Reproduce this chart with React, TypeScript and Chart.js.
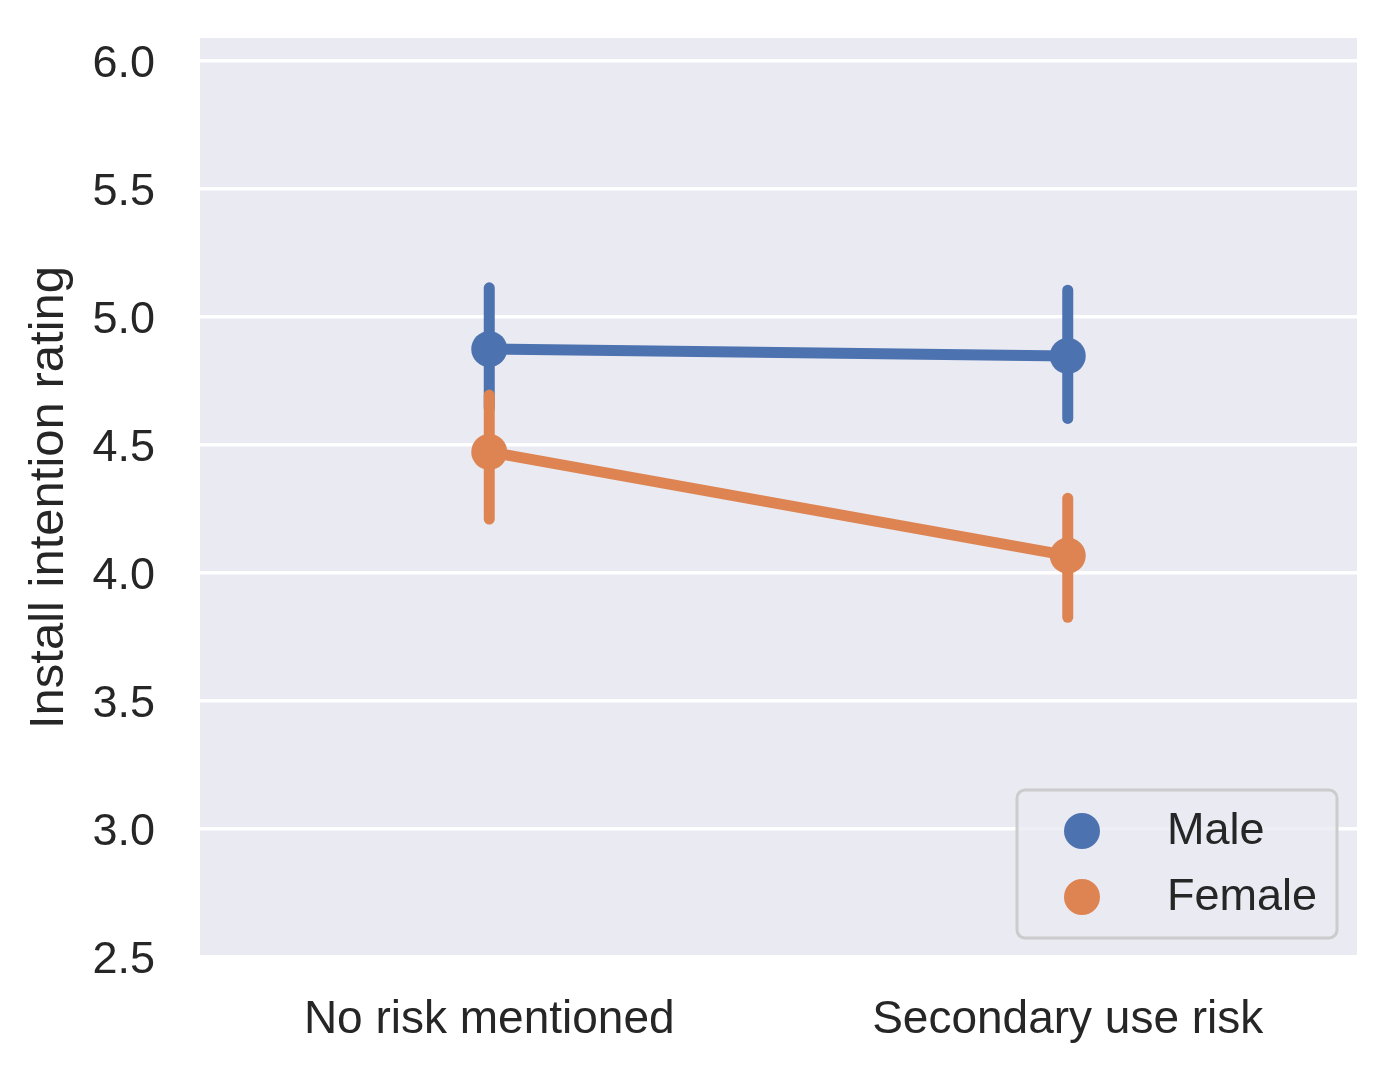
import { useEffect, useRef } from 'react'
import { Chart, registerables } from 'chart.js'

Chart.register(...registerables)

// categories on the x axis
const categories = ['No risk mentioned', 'Secondary use risk']

// series: point estimates and their error bar ends
const seriesNames = ['Male', 'Female']
const maleMeans = [4.875, 4.848]
const maleLow = [4.645, 4.604]
const maleHigh = [5.114, 5.105]
const femaleMeans = [4.473, 4.068]
const femaleLow = [4.211, 3.827]
const femaleHigh = [4.695, 4.292]

// y axis ticks
const yTicks = [2.5, 3.0, 3.5, 4.0, 4.5, 5.0, 5.5, 6.0]
const yMin = 2.5
const yMax = 6.09

const BLUE = '#4C72B0'
const ORANGE = '#DD8452'
const TEXT = '#262626'
const FONT = "'Liberation Sans', Arial, sans-serif"

const errorLows = [maleLow, femaleLow]
const errorHighs = [maleHigh, femaleHigh]

// draws the vertical error bars for each dataset right before it
const errorBarPlugin = {
  id: 'errorBars',
  beforeDatasetDraw(chart: any, args: any) {
    const i = args.index
    const meta = args.meta
    const ctx = chart.ctx
    const y = chart.scales.y
    ctx.save()
    ctx.strokeStyle = chart.data.datasets[i].borderColor
    ctx.lineWidth = 11
    ctx.lineCap = 'round'
    meta.data.forEach((pt: any, j: number) => {
      ctx.beginPath()
      ctx.moveTo(pt.x, y.getPixelForValue(errorLows[i][j]))
      ctx.lineTo(pt.x, y.getPixelForValue(errorHighs[i][j]))
      ctx.stroke()
    })
    ctx.restore()
  },
}

// plot background
const backgroundPlugin = {
  id: 'plotBg',
  beforeDraw(chart: any) {
    const { ctx, chartArea } = chart
    ctx.save()
    ctx.fillStyle = '#EAEAF2'
    ctx.fillRect(chartArea.left, chartArea.top, chartArea.right - chartArea.left, chartArea.bottom - chartArea.top)
    ctx.restore()
  },
}

// seaborn style legend in the lower right corner
const legendPlugin = {
  id: 'boxLegend',
  afterDraw(chart: any) {
    const { ctx, chartArea } = chart
    const w = 320
    const h = 148
    const right = chartArea.right - 20
    const bottom = chartArea.bottom - 19
    const left = right - w
    const top = bottom - h
    ctx.save()
    ctx.beginPath()
    ctx.roundRect(left, top, w, h, 8)
    ctx.fillStyle = 'rgba(234, 234, 242, 0.8)'
    ctx.fill()
    ctx.lineWidth = 3
    ctx.strokeStyle = '#cccccc'
    ctx.stroke()
    chart.data.datasets.forEach((ds: any, i: number) => {
      const cy = top + 41 + i * 66
      ctx.beginPath()
      ctx.arc(left + 65, cy, 18, 0, Math.PI * 2)
      ctx.fillStyle = ds.borderColor
      ctx.fill()
      ctx.fillStyle = TEXT
      ctx.font = `45px ${FONT}`
      ctx.textAlign = 'left'
      ctx.textBaseline = 'middle'
      ctx.fillText(ds.label, left + 150, cy + 1)
    })
    ctx.restore()
  },
}

export default function App() {
  const chartRef = useRef<HTMLCanvasElement>(null)
  const chartInstance = useRef<Chart | null>(null)

  useEffect(() => {
    document.body.style.margin = '0'
    if (!chartRef.current) return
    if (chartInstance.current) chartInstance.current.destroy()

    const ctx = chartRef.current.getContext('2d')
    if (!ctx) return

    chartInstance.current = new Chart(ctx, {
      type: 'line',
      data: {
        labels: categories,
        datasets: [
          {
            label: seriesNames[0],
            data: maleMeans,
            borderColor: BLUE,
            backgroundColor: BLUE,
            borderWidth: 11,
            pointRadius: 18,
            pointBorderWidth: 0,
            pointBackgroundColor: BLUE,
            order: 1,
          },
          {
            label: seriesNames[1],
            data: femaleMeans,
            borderColor: ORANGE,
            backgroundColor: ORANGE,
            borderWidth: 11,
            pointRadius: 18,
            pointBorderWidth: 0,
            pointBackgroundColor: ORANGE,
            order: 0,
          },
        ],
      },
      options: {
        responsive: false,
        animation: false,
        devicePixelRatio: 1,
        layout: { padding: { top: 38, right: 38, left: 0, bottom: 0 } },
        plugins: {
          legend: { display: false },
          tooltip: { enabled: false },
        },
        scales: {
          x: {
            type: 'category',
            offset: true,
            grid: { display: false, drawTicks: false },
            border: { display: false },
            ticks: {
              color: TEXT,
              font: { family: FONT, size: 46 },
              padding: 36,
              maxRotation: 0,
            },
            afterFit(scale: any) {
              scale.height = 116
              scale.paddingLeft = 0
              scale.paddingRight = 0
            },
          },
          y: {
            min: yMin,
            max: yMax,
            grid: { color: '#ffffff', lineWidth: 3.5, drawTicks: false },
            border: { display: false },
            ticks: {
              color: TEXT,
              font: { family: FONT, size: 45 },
              padding: 45,
              labelOffset: 4,
              callback: (v: any) => Number(v).toFixed(1),
            },
            afterBuildTicks(scale: any) {
              scale.ticks = yTicks.map((v) => ({ value: v }))
            },
            afterFit(scale: any) {
              scale.width = 200
              scale.paddingTop = 0
              scale.paddingBottom = 0
            },
            title: {
              display: true,
              text: 'Install intention rating',
              color: TEXT,
              font: { family: FONT, size: 49 },
              padding: { top: 20, bottom: 0 },
            },
          },
        },
      },
      plugins: [backgroundPlugin, errorBarPlugin, legendPlugin],
    })

    return () => {
      if (chartInstance.current) {
        chartInstance.current.destroy()
        chartInstance.current = null
      }
    }
  }, [])

  return (
    <div style={{ width: 1395, height: 1073, background: '#ffffff' }}>
      <canvas ref={chartRef} width={1395} height={1073}></canvas>
    </div>
  )
}
